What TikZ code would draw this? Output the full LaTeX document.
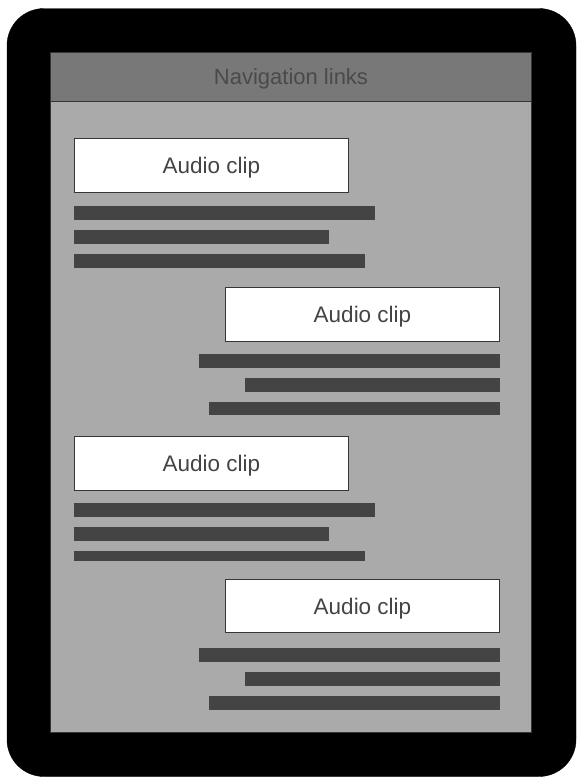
\documentclass[tikz,border=0pt]{standalone}
\usepackage{fontspec}
\setmainfont{Liberation Sans}
\definecolor{screenfill}{HTML}{AAAAAA}
\definecolor{headfill}{HTML}{787878}
\definecolor{darkline}{HTML}{363636}
\definecolor{barcol}{HTML}{444444}
\definecolor{textcol}{HTML}{444444}
\definecolor{headtext}{HTML}{4A4A4A}
\begin{document}
\begin{tikzpicture}[x=1pt,y=-1pt,
  clipbox/.style={draw=darkline, line width=1pt, fill=white, anchor=north west,
    minimum width=274pt, minimum height=54pt, inner sep=0pt, outer sep=0pt,
    text depth=0pt, font=\fontsize{22.5}{26}\selectfont, text=textcol},
  bar/.style={fill=barcol}]
\useasboundingbox (0,0) rectangle (583,782);
% device frame
\node[draw=black, fill=black, rounded corners=37pt, anchor=north west,
  minimum width=569pt, minimum height=768pt, inner sep=0pt, outer sep=0pt] (frame) at (7,8.5) {};
% screen
\node[draw=darkline, line width=1pt, fill=screenfill, anchor=north west,
  minimum width=481pt, minimum height=680pt, inner sep=0pt, outer sep=0pt] (screen) at (50.5,52) {};
% header
\node[draw=darkline, line width=1pt, fill=headfill, anchor=north west,
  minimum width=481pt, minimum height=49pt, inner sep=0pt, outer sep=0pt,
  text depth=0pt, font=\fontsize{22}{26}\selectfont, text=headtext] (header) at (50.5,52) {Navigation links};
% group 1
\node[clipbox] (clip1) at (74.5,138.5) {Audio clip};
\fill[bar] (74,206) rectangle (375,220);
\fill[bar] (74,230) rectangle (329,244);
\fill[bar] (74,254) rectangle (365,268);
% group 2
\node[clipbox] (clip2) at (225.5,287.5) {Audio clip};
\fill[bar] (199,354) rectangle (500,368);
\fill[bar] (245,378) rectangle (500,392);
\fill[bar] (209,402) rectangle (500,415);
% group 3
\node[clipbox] (clip3) at (74.5,436.5) {Audio clip};
\fill[bar] (74,503) rectangle (375,517);
\fill[bar] (74,527) rectangle (329,541);
\fill[bar] (74,551) rectangle (365,561);
% group 4
\node[clipbox, minimum height=53pt] (clip4) at (225.5,579.5) {Audio clip};
\fill[bar] (199,648) rectangle (500,662);
\fill[bar] (245,672) rectangle (500,686);
\fill[bar] (209,696) rectangle (500,710);
\end{tikzpicture}
\end{document}
